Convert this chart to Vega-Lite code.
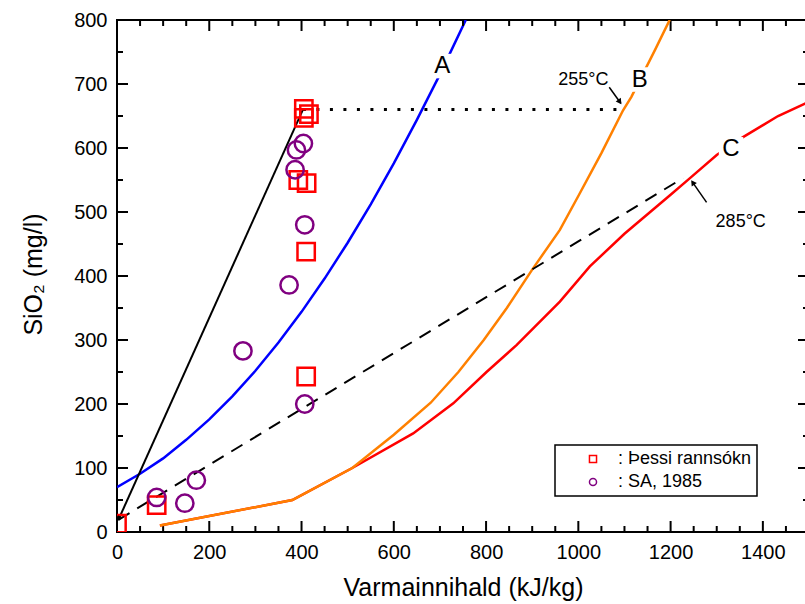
{
  "$schema": "https://vega.github.io/schema/vega-lite/v6.json",
  "width": 692,
  "height": 512,
  "autosize": "none",
  "padding": {"left": 117, "top": 20, "right": 0, "bottom": 72},
  "background": "white",
  "datasets": {
    "curveA": [
      {"x": 0, "y": 70}, {"x": 50, "y": 91}, {"x": 100, "y": 115}, {"x": 150, "y": 144},
      {"x": 200, "y": 176}, {"x": 250, "y": 212}, {"x": 300, "y": 252}, {"x": 350, "y": 296},
      {"x": 400, "y": 344}, {"x": 450, "y": 396}, {"x": 500, "y": 452}, {"x": 550, "y": 512},
      {"x": 600, "y": 576}, {"x": 650, "y": 644}, {"x": 700, "y": 715}, {"x": 756, "y": 800}
    ],
    "curveB": [
      {"x": 93, "y": 10}, {"x": 380, "y": 50}, {"x": 510, "y": 100}, {"x": 600, "y": 152},
      {"x": 680, "y": 202}, {"x": 740, "y": 250}, {"x": 795, "y": 300}, {"x": 845, "y": 350},
      {"x": 900, "y": 410}, {"x": 960, "y": 472}, {"x": 1000, "y": 525}, {"x": 1050, "y": 592},
      {"x": 1097, "y": 659}, {"x": 1115, "y": 680}, {"x": 1166, "y": 753}, {"x": 1198, "y": 800}
    ],
    "curveC": [
      {"x": 93, "y": 10}, {"x": 380, "y": 50}, {"x": 510, "y": 100}, {"x": 642, "y": 154},
      {"x": 729, "y": 201}, {"x": 801, "y": 250}, {"x": 866, "y": 292}, {"x": 960, "y": 360},
      {"x": 1025, "y": 415}, {"x": 1100, "y": 466}, {"x": 1200, "y": 527}, {"x": 1242, "y": 553},
      {"x": 1300, "y": 589}, {"x": 1357, "y": 617}, {"x": 1433, "y": 650}, {"x": 1500, "y": 672}
    ],
    "solid": [{"x": 3, "y": 19}, {"x": 403, "y": 660}],
    "dashed": [{"x": 3, "y": 19}, {"x": 1227, "y": 553}],
    "dotted": [{"x": 403, "y": 660}, {"x": 1097, "y": 660}],
    "points": [
      {"x": 0, "y": 13, "src": "Þessi rannsókn"},
      {"x": 86, "y": 42, "src": "Þessi rannsókn"},
      {"x": 405, "y": 661, "src": "Þessi rannsókn"},
      {"x": 416, "y": 653, "src": "Þessi rannsókn"},
      {"x": 405, "y": 647, "src": "Þessi rannsókn"},
      {"x": 393, "y": 550, "src": "Þessi rannsókn"},
      {"x": 411, "y": 545, "src": "Þessi rannsókn"},
      {"x": 410, "y": 438, "src": "Þessi rannsókn"},
      {"x": 410, "y": 243, "src": "Þessi rannsókn"},
      {"x": 86, "y": 54, "src": "SA, 1985"},
      {"x": 147, "y": 45, "src": "SA, 1985"},
      {"x": 172, "y": 81, "src": "SA, 1985"},
      {"x": 273, "y": 283, "src": "SA, 1985"},
      {"x": 373, "y": 386, "src": "SA, 1985"},
      {"x": 407, "y": 480, "src": "SA, 1985"},
      {"x": 407, "y": 200, "src": "SA, 1985"},
      {"x": 404, "y": 607, "src": "SA, 1985"},
      {"x": 389, "y": 597, "src": "SA, 1985"},
      {"x": 386, "y": 566, "src": "SA, 1985"}
    ],
    "labels": [{"x": 705, "y": 728, "t": "A"}, {"x": 1133, "y": 707, "t": "B"}, {"x": 1331, "y": 598, "t": "C"}],
    "notes": [{"x": 1011, "y": 706, "t": "255°C"}, {"x": 1352, "y": 485, "t": "285°C"}],
    "arrows": [{"x": 1067, "y": 695, "x2": 1092, "y2": 670}, {"x": 1278, "y": 515, "x2": 1247, "y2": 547}],
    "head255": [{"x": 1090, "y": 672}],
    "head285": [{"x": 1248, "y": 546}],
    "head0": [{"x": 5, "y": 21}],
    "xMajor": [{"x": 200}, {"x": 400}, {"x": 600}, {"x": 800}, {"x": 1000}, {"x": 1200}, {"x": 1400}],
    "xMinor": [{"x": 50}, {"x": 100}, {"x": 150}, {"x": 250}, {"x": 300}, {"x": 350}, {"x": 450}, {"x": 500}, {"x": 550}, {"x": 650}, {"x": 700}, {"x": 750},
      {"x": 850}, {"x": 900}, {"x": 950}, {"x": 1050}, {"x": 1100}, {"x": 1150}, {"x": 1250}, {"x": 1300}, {"x": 1350}, {"x": 1450}],
    "yMajor": [{"y": 100}, {"y": 200}, {"y": 300}, {"y": 400}, {"y": 500}, {"y": 600}, {"y": 700}],
    "yMinor": [{"y": 50}, {"y": 150}, {"y": 250}, {"y": 350}, {"y": 450}, {"y": 550}, {"y": 650}, {"y": 750}]
  },
  "layer": [
    {
      "data": {"name": "curveA"},
      "mark": {"type": "line", "color": "#0000FF", "strokeWidth": 2.5, "clip": true},
      "encoding": {
        "x": {"field": "x", "type": "quantitative", "scale": {"domain": [0, 1500], "nice": false, "zero": false},
          "axis": {"orient": "bottom", "values": [0, 200, 400, 600, 800, 1000, 1200, 1400], "format": "d", "ticks": false, "labelPadding": 10, "labelFlush": false,
            "title": "Varmainnihald (kJ/kg)", "titleX": 346, "titleY": 63, "titleBaseline": "alphabetic", "titleAlign": "center"}},
        "y": {"field": "y", "type": "quantitative", "scale": {"domain": [0, 800], "nice": false, "zero": false},
          "axis": {"orient": "left", "values": [0, 100, 200, 300, 400, 500, 600, 700, 800], "format": "d", "ticks": false, "labelPadding": 10,
            "title": "SiO₂ (mg/l)", "titleX": -76, "titleY": 254, "titleAngle": 270, "titleBaseline": "alphabetic", "titleAlign": "center"}}
      }
    },
    {
      "data": {"name": "xMajor"},
      "mark": {"type": "rule", "color": "black", "strokeWidth": 2},
      "encoding": {"x": {"field": "x", "type": "quantitative"}, "y": {"datum": 0, "type": "quantitative"}, "y2": {"datum": 17.2}}
    },
    {
      "data": {"name": "xMajor"},
      "mark": {"type": "rule", "color": "black", "strokeWidth": 2},
      "encoding": {"x": {"field": "x", "type": "quantitative"}, "y": {"datum": 800, "type": "quantitative"}, "y2": {"datum": 782.8}}
    },
    {
      "data": {"name": "xMinor"},
      "mark": {"type": "rule", "color": "black", "strokeWidth": 2},
      "encoding": {"x": {"field": "x", "type": "quantitative"}, "y": {"datum": 0, "type": "quantitative"}, "y2": {"datum": 9.4}}
    },
    {
      "data": {"name": "xMinor"},
      "mark": {"type": "rule", "color": "black", "strokeWidth": 2},
      "encoding": {"x": {"field": "x", "type": "quantitative"}, "y": {"datum": 800, "type": "quantitative"}, "y2": {"datum": 790.6}}
    },
    {
      "data": {"name": "yMajor"},
      "mark": {"type": "rule", "color": "black", "strokeWidth": 2},
      "encoding": {"y": {"field": "y", "type": "quantitative"}, "x": {"datum": 0, "type": "quantitative"}, "x2": {"datum": 23.8}}
    },
    {
      "data": {"name": "yMajor"},
      "mark": {"type": "rule", "color": "black", "strokeWidth": 2},
      "encoding": {"y": {"field": "y", "type": "quantitative"}, "x": {"datum": 1500, "type": "quantitative"}, "x2": {"datum": 1476.2}}
    },
    {
      "data": {"name": "yMinor"},
      "mark": {"type": "rule", "color": "black", "strokeWidth": 2},
      "encoding": {"y": {"field": "y", "type": "quantitative"}, "x": {"datum": 0, "type": "quantitative"}, "x2": {"datum": 13}}
    },
    {
      "data": {"name": "yMinor"},
      "mark": {"type": "rule", "color": "black", "strokeWidth": 2},
      "encoding": {"y": {"field": "y", "type": "quantitative"}, "x": {"datum": 1500, "type": "quantitative"}, "x2": {"datum": 1487}}
    },
    {
      "data": {"name": "curveC"},
      "mark": {"type": "line", "color": "#FF0000", "strokeWidth": 2.5, "clip": true},
      "encoding": {"x": {"field": "x", "type": "quantitative"}, "y": {"field": "y", "type": "quantitative"}}
    },
    {
      "data": {"name": "curveB"},
      "mark": {"type": "line", "color": "#FF8000", "strokeWidth": 2.5, "clip": true},
      "encoding": {"x": {"field": "x", "type": "quantitative"}, "y": {"field": "y", "type": "quantitative"}}
    },
    {
      "data": {"name": "solid"},
      "mark": {"type": "line", "color": "black", "strokeWidth": 2, "clip": true},
      "encoding": {"x": {"field": "x", "type": "quantitative"}, "y": {"field": "y", "type": "quantitative"}}
    },
    {
      "data": {"name": "dashed"},
      "mark": {"type": "line", "color": "black", "strokeWidth": 2, "strokeDash": [13, 9], "clip": true},
      "encoding": {"x": {"field": "x", "type": "quantitative"}, "y": {"field": "y", "type": "quantitative"}}
    },
    {
      "data": {"name": "dotted"},
      "mark": {"type": "line", "color": "black", "strokeWidth": 3, "strokeDash": [3, 10.5], "clip": true},
      "encoding": {"x": {"field": "x", "type": "quantitative"}, "y": {"field": "y", "type": "quantitative"}}
    },
    {
      "data": {"name": "points"},
      "mark": {"type": "point", "filled": false, "size": 300, "strokeWidth": 2.5, "opacity": 1, "clip": true},
      "encoding": {
        "x": {"field": "x", "type": "quantitative"},
        "y": {"field": "y", "type": "quantitative"},
        "color": {"field": "src", "type": "nominal",
          "scale": {"domain": ["Þessi rannsókn", "SA, 1985"], "range": ["#FF0000", "#800080"]},
          "legend": {"title": null, "orient": "none", "legendX": 438, "legendY": 425, "padding": 5, "strokeColor": "black", "fillColor": "white",
            "labelExpr": "': ' + datum.label", "labelFont": "Liberation Sans", "labelFontSize": 18, "labelColor": "black",
            "symbolSize": 50, "symbolStrokeWidth": 1.5, "symbolOffset": 24, "labelOffset": 16, "rowPadding": 5}},
        "shape": {"field": "src", "type": "nominal",
          "scale": {"domain": ["Þessi rannsókn", "SA, 1985"], "range": ["square", "circle"]},
          "legend": {"title": null, "orient": "none", "legendX": 438, "legendY": 425, "padding": 5, "strokeColor": "black", "fillColor": "white",
            "labelExpr": "': ' + datum.label", "labelFont": "Liberation Sans", "labelFontSize": 18, "labelColor": "black",
            "symbolSize": 50, "symbolStrokeWidth": 1.5, "symbolOffset": 24, "labelOffset": 16, "rowPadding": 5}}
      }
    },
    {
      "data": {"name": "labels"},
      "mark": {"type": "point", "shape": "square", "filled": true, "color": "white", "opacity": 1, "size": 600, "strokeWidth": 0},
      "encoding": {"x": {"field": "x", "type": "quantitative"}, "y": {"field": "y", "type": "quantitative"}}
    },
    {
      "data": {"name": "labels"},
      "mark": {"type": "text", "font": "Liberation Sans", "fontSize": 24, "color": "black", "align": "center", "baseline": "middle"},
      "encoding": {"x": {"field": "x", "type": "quantitative"}, "y": {"field": "y", "type": "quantitative"}, "text": {"field": "t"}}
    },
    {
      "data": {"name": "notes"},
      "mark": {"type": "text", "font": "Liberation Sans", "fontSize": 18, "color": "black", "align": "center", "baseline": "middle"},
      "encoding": {"x": {"field": "x", "type": "quantitative"}, "y": {"field": "y", "type": "quantitative"}, "text": {"field": "t"}}
    },
    {
      "data": {"name": "arrows"},
      "mark": {"type": "rule", "color": "black", "strokeWidth": 1.5},
      "encoding": {"x": {"field": "x", "type": "quantitative"}, "y": {"field": "y", "type": "quantitative"}, "x2": {"field": "x2"}, "y2": {"field": "y2"}}
    },
    {
      "data": {"name": "head255"},
      "mark": {"type": "point", "shape": "triangle-down", "filled": true, "color": "black", "opacity": 1, "size": 40, "angle": 324},
      "encoding": {"x": {"field": "x", "type": "quantitative"}, "y": {"field": "y", "type": "quantitative"}}
    },
    {
      "data": {"name": "head285"},
      "mark": {"type": "point", "shape": "triangle-down", "filled": true, "color": "black", "opacity": 1, "size": 40, "angle": 145},
      "encoding": {"x": {"field": "x", "type": "quantitative"}, "y": {"field": "y", "type": "quantitative"}}
    },
    {
      "data": {"name": "head0"},
      "mark": {"type": "point", "shape": "triangle-down", "filled": true, "color": "black", "opacity": 1, "size": 30, "angle": 24},
      "encoding": {"x": {"field": "x", "type": "quantitative"}, "y": {"field": "y", "type": "quantitative"}}
    }
  ],
  "config": {
    "view": {"stroke": "black", "strokeWidth": 2},
    "axis": {"domain": false, "grid": false, "labelFont": "Liberation Sans", "labelFontSize": 20, "labelColor": "black",
      "titleFont": "Liberation Sans", "titleFontSize": 25, "titleFontWeight": "normal", "titleColor": "black"},
    "legend": {"strokeWidth": 1.5}
  }
}
